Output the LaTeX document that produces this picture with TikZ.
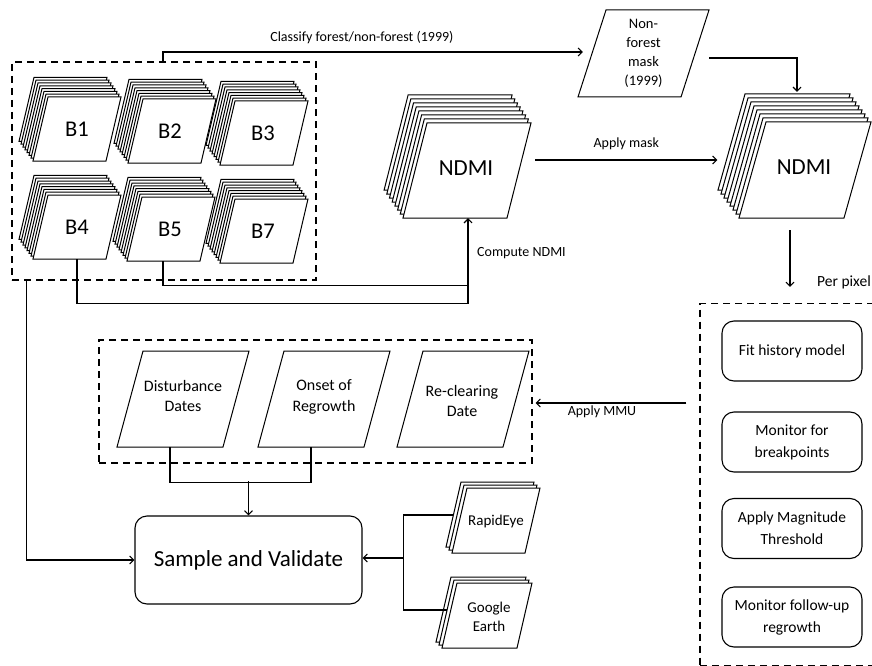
\documentclass[tikz,border=0pt]{standalone}
\usepackage{fontspec}
\setmainfont{Carlito}
\usetikzlibrary{arrows.meta,calc}

\tikzset{
  conn/.style={line width=1.1pt, draw=black},
  arr/.style={conn, -{Straight Barb[length=4pt,width=8pt]}},
  sheet/.style={draw=black, fill=white, line width=1pt, line join=miter},
  dashbox/.style={draw=black, dash pattern=on 7pt off 5pt, line width=1.1pt, rectangle, inner sep=0pt},
  sheetlabel/.style={inner sep=0pt, align=center, text=black},
  bandfont/.style={font=\fontsize{22.5}{26}\selectfont},
  bigfont/.style={font=\fontsize{23}{27}\selectfont},
  outfont/.style={font=\fontsize{16}{20.5}\selectfont},
  stepbox/.style={draw=black, line width=1.1pt, rounded corners=12pt, minimum width=140pt,
    minimum height=60pt, align=center, font=\fontsize{15.5}{22}\selectfont},
  note/.style={font=\fontsize{14}{16}\selectfont, inner sep=0pt},
}

% stack of parallelogram sheets: bottom-left x, y, width, height, slant, back sheets, dx, dy
\newcommand{\sheetstack}[8]{%
  \foreach \k in {#6,...,0}{%
    \draw[sheet] ({#1+\k*(#7)},{#2+\k*(#8)}) -- ++(#3,0) -- ++(#5,-#4) -- ++(-#3,0) -- cycle;
  }%
}
% single parallelogram: bottom-left x, y, width, height, slant
\newcommand{\plgram}[5]{%
  \draw[sheet] (#1,#2) -- ++(#3,0) -- ++(#5,-#4) -- ++(-#3,0) -- cycle;
}

\begin{document}
\begin{tikzpicture}[x=1pt,y=-1pt]
\useasboundingbox (0,0) rectangle (872,666);
\clip (0,0) rectangle (872,666);

% ---- Landsat band stacks ----
\sheetstack{33}{161}{73}{64}{15}{7}{-2}{-2.8}
\sheetstack{128}{163}{73}{64}{15}{7}{-2}{-2.8}
\sheetstack{220}{165}{73}{64}{15}{7}{-2}{-2.8}
\sheetstack{33}{259}{73}{64}{15}{7}{-2}{-2.8}
\sheetstack{127}{261}{73}{64}{15}{7}{-2}{-2.8}
\sheetstack{220}{263}{73}{64}{15}{7}{-2}{-2.8}
\node[sheetlabel, bandfont, minimum width=73pt, minimum height=64pt] (b1) at (77,129) {B1};
\node[sheetlabel, bandfont, minimum width=73pt, minimum height=64pt] (b2) at (170,131) {B2};
\node[sheetlabel, bandfont, minimum width=73pt, minimum height=64pt] (b3) at (263,133) {B3};
\node[sheetlabel, bandfont, minimum width=73pt, minimum height=64pt] (b4) at (77,227) {B4};
\node[sheetlabel, bandfont, minimum width=73pt, minimum height=64pt] (b5) at (170,229) {B5};
\node[sheetlabel, bandfont, minimum width=73pt, minimum height=64pt] (b7) at (263,231) {B7};
\node[dashbox, minimum width=304pt, minimum height=218pt] (bands) at (164,171) {};

% ---- NDMI stacks ----
\sheetstack{403}{218}{104}{95}{24}{7}{-2.7}{-4}
\node[sheetlabel, bigfont, minimum width=104pt, minimum height=95pt] (ndmiA) at (466,168) {NDMI};
\sheetstack{739}{218}{105}{96}{27}{7}{-3}{-4}
\node[sheetlabel, bigfont, minimum width=105pt, minimum height=96pt] (ndmiB) at (804,167) {NDMI};

% ---- Non-forest mask ----
\plgram{578}{97}{103}{87}{28}
\node[sheetlabel, font=\fontsize{14.5}{19}\selectfont, minimum width=131pt, minimum height=87pt] (mask) at (643.5,53.5) {Non-\\forest\\mask\\(1999)};

% ---- Output maps ----
\plgram{117}{447}{106}{96}{26}
\plgram{258}{447}{106}{96}{26}
\plgram{397}{447}{106}{96}{26}
\node[sheetlabel, outfont, minimum width=106pt, minimum height=96pt] (dist) at (183,396) {Disturbance\\Dates};
\node[sheetlabel, outfont, minimum width=106pt, minimum height=96pt] (onset) at (324,397) {Onset of\\Regrowth};
\node[sheetlabel, outfont, minimum width=106pt, minimum height=96pt] (recl) at (462,401) {Re-clearing\\Date};
\node[dashbox, minimum width=433pt, minimum height=123pt] (outputs) at (315.5,401.5) {};

% ---- Reference imagery ----
\sheetstack{452}{553}{73}{65}{15}{2}{-3}{-3}
\node[sheetlabel, font=\fontsize{15}{18}\selectfont, minimum width=73pt, minimum height=65pt] (re) at (496,521) {RapidEye};
\sheetstack{442}{648}{75}{65}{15}{2}{-3}{-3}
\node[sheetlabel, font=\fontsize{15}{18.5}\selectfont, minimum width=75pt, minimum height=65pt] (ge) at (489,617) {Google\\Earth};

% ---- Validation ----
\node[draw=black, line width=1.1pt, rounded corners=12pt, minimum width=227pt, minimum height=88pt,
      bigfont] (sv) at (248.5,560) {Sample and Validate};

% ---- Per-pixel processing ----
\node[dashbox, minimum width=200pt, minimum height=362pt] (perpix) at (800,484.5) {};
\node[font=\fontsize{15.5}{18}\selectfont, inner sep=0pt, anchor=west] at (817,282) {Per pixel};
\node[stepbox] (s1) at (792,351) {Fit history model};
\node[stepbox] (s2) at (792,442) {Monitor for\\breakpoints};
\node[stepbox] (s3) at (792,528.5) {Apply Magnitude\\Threshold};
\node[stepbox] (s4) at (792,617) {Monitor follow-up\\regrowth};

% ---- Connectors ----
% classification of the 1999 scene
\draw[arr] ($(bands.north)+(-1,0)$) |- ($(mask.west)+(5,-1.5)$)
  node[note, pos=0.75, above=8pt, xshift=-11pt] {Classify forest/non-forest (1999)};
% mask applied to the NDMI stack
\draw[arr] ($(mask.east)+(0,4.5)$) -| ($(ndmiB.north)+(-7,-27)$);
% bands to NDMI
\draw[conn] ($(b5.south)+(-7,0)$) |- ($(ndmiA.south)+(2,70)$);
\draw[arr] (b4.south) |- ($(ndmiA.south)+(2,88)$) -- ($(ndmiA.south)+(2,2.5)$);
\node[note, anchor=west] at (477,253) {Compute NDMI};
\draw[arr] ($(ndmiA.east)+(17,-8)$) -- ($(ndmiB.west)+(-34,-7)$)
  node[note, midway, above=10pt] {Apply mask};
% per-pixel change detection
\draw[arr] ($(ndmiB.south)+(-14,15)$) -- ($(perpix.north)+(-10,-16)$);
\draw[arr] ($(perpix.west |- outputs.east)+(-13,1.5)$) -- ($(outputs.east)+(3,1.5)$)
  node[note, midway, below=2.5pt, xshift=-9pt] {Apply MMU};
% outputs to validation
\draw[conn] ($(dist.south)+(-13,3)$) -- ++(0,35) -| ($(onset.south)+(-13,2)$);
\draw[arr] ($(sv.north)+(0,-34)$) -- (sv.north);
\draw[arr] ($(bands.south west)+(15,0)$) |- (sv.west);
\draw[conn] ($(re.west)+(-6,-6)$) -| ($(sv.east)+(41,-2)$) |- ($(ge.west)+(-4,-7)$);
\draw[arr] ($(sv.east)+(41,-2)$) -- ($(sv.east)+(0,-2)$);
\end{tikzpicture}
\end{document}
